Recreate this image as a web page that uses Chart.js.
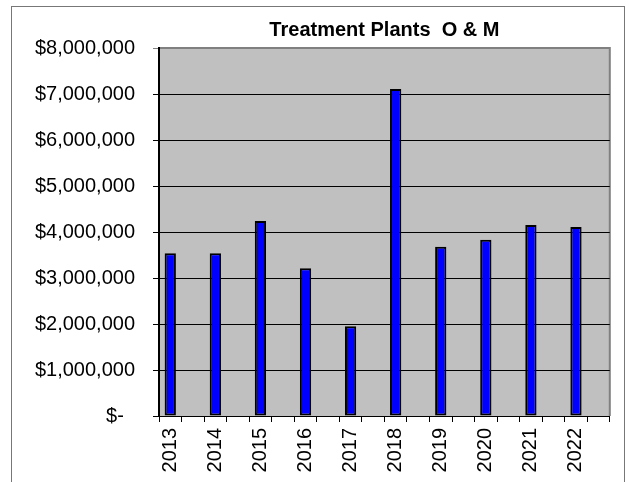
<!DOCTYPE html>
<html>
<head>
<meta charset="utf-8">
<script src="https://cdn.jsdelivr.net/npm/chart.js@4/dist/chart.umd.min.js"></script>
<style>
  html, body { margin: 0; padding: 0; background: #fff; }
  #cntr { position: relative; width: 629px; height: 482px; overflow: hidden; }
  #marco { position: absolute; left: 11px; top: 6px; width: 612px; height: 520px; border: 1px solid #777; pointer-events: none; }
  canvas { position: absolute; left: 0; top: 0; }
</style>
</head>
<body>
<div id="cntr">
  <canvas id="myChart" width="629" height="482"></canvas>
  <div id="marco"></div>
</div>
<script>
// Data
const years = ['2013', '2014', '2015', '2016', '2017', '2018', '2019', '2020', '2021', '2022'];
const costs = [3540000, 3540000, 4240000, 3210000, 1950000, 7110000, 3680000, 3830000, 4150000, 4110000];
const yTicks = [0, 1000000, 2000000, 3000000, 4000000, 5000000, 6000000, 7000000, 8000000];

// The original axis has an empty category after every year
let labels = [];
let values = [];
years.forEach((y, i) => {
  labels.push(y);
  values.push(costs[i]);
  labels.push('');
  values.push(null);
});

const fontFam = "'Liberation Sans', Arial, sans-serif";

// Gray plot background with a gray frame on top and right
const fondo = {
  id: 'fondo',
  beforeDraw(chart) {
    const { ctx, chartArea: a } = chart;
    ctx.save();
    ctx.fillStyle = '#C0C0C0';
    ctx.fillRect(a.left, a.top, a.right - a.left, a.bottom - a.top);
    ctx.strokeStyle = '#808080';
    ctx.lineWidth = 2;
    ctx.beginPath();
    ctx.moveTo(a.left, a.top);
    ctx.lineTo(a.right, a.top);
    ctx.lineTo(a.right, a.bottom);
    ctx.stroke();
    ctx.restore();
  }
};

const ctx = document.getElementById('myChart');
new Chart(ctx, {
  type: 'bar',
  data: {
    labels: labels,
    datasets: [{
      label: 'Treatment Plants O & M',
      data: values,
      backgroundColor: '#0000FF',
      borderColor: '#000000',
      borderWidth: 2,
      borderSkipped: false,
      barPercentage: 0.5,
      categoryPercentage: 1
    }]
  },
  options: {
    responsive: false,
    animation: false,
    devicePixelRatio: 1,
    layout: {
      padding: { left: 0, right: 13, top: 18, bottom: 0 }
    },
    plugins: {
      legend: { display: false },
      tooltip: { enabled: false },
      title: {
        display: true,
        fullSize: false,
        text: 'Treatment Plants  O & M',
        color: '#000',
        font: { family: fontFam, size: 20, weight: 'bold' },
        padding: { top: 0, bottom: 6 }
      }
    },
    scales: {
      x: {
        offset: true,
        grid: {
          offset: true,
          drawOnChartArea: false,
          drawTicks: true,
          tickLength: 6,
          color: '#000'
        },
        border: { display: true, color: '#000', width: 1 },
        ticks: {
          autoSkip: false,
          maxRotation: 90,
          minRotation: 90,
          padding: 6,
          color: '#000',
          font: { family: fontFam, size: 20 }
        },
        afterFit(scale) { scale.height = 66; }
      },
      y: {
        min: 0,
        max: 8000000,
        afterBuildTicks(scale) {
          scale.ticks = yTicks.map(v => ({ value: v }));
        },
        grid: {
          drawTicks: true,
          tickLength: 6,
          color: (c) => (c.tick && c.tick.value === 8000000) ? '#808080' : '#000',
          lineWidth: 1
        },
        border: { display: true, color: '#000', width: 2 },
        ticks: {
          padding: 18,
          color: '#000',
          font: { family: fontFam, size: 20 },
          callback: (v) => v === 0 ? '$-  ' : '$' + v.toLocaleString('en-US')
        },
        afterFit(scale) { scale.width = 159; }
      }
    }
  },
  plugins: [fondo]
});
</script>
</body>
</html>
